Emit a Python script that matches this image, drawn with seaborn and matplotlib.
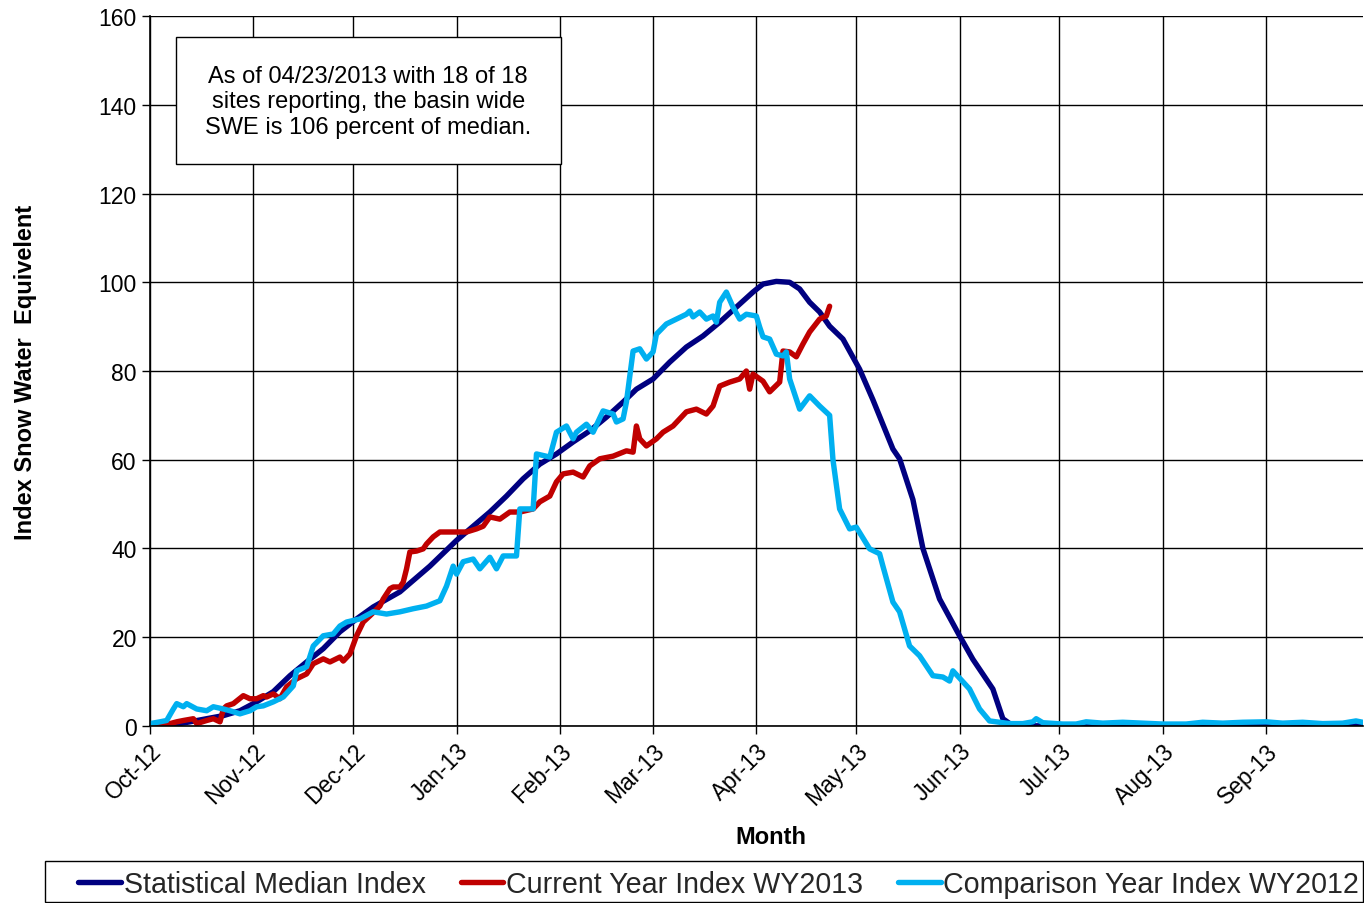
import pandas as pd
import numpy as np
import matplotlib.pyplot as plt
import matplotlib.dates as mdates
from matplotlib.patches import Rectangle
import seaborn as sns

# Ano hidrológico: dias contados a partir de 01/10/2012
inicio = pd.Timestamp("2012-10-01")

mediana_dias = [0, 5, 12, 17, 22, 27, 32, 37, 42, 47, 52, 57, 62, 67, 75, 84, 92, 97, 102,
                107, 112, 117, 122, 127, 132, 137, 142, 146, 151, 156, 161, 166, 171, 176,
                181, 184, 188, 192, 195, 198, 201, 204, 208, 213, 217, 223, 225, 229, 232,
                237, 243, 247, 253, 256, 259, 364]
mediana_vals = [0, 0, 0.9, 1.6, 2.3, 3.4, 5.4, 7.7, 11.3, 14.4, 17.4, 21.2, 24.1, 26.8, 30.2,
                36, 41.8, 45, 48.2, 51.8, 55.7, 59, 61.3, 64, 66.5, 69.6, 73, 75.9, 78.2, 82,
                85.4, 87.9, 91, 94.4, 97.8, 99.6, 100.2, 100, 98.5, 95.5, 93.3, 90.1, 87.2,
                80.4, 73.5, 62.4, 60.2, 51, 40, 28.6, 20.3, 15, 8.3, 1.6, 0, 0]

atual_dias = [0, 6, 8, 10, 13, 14, 17, 19, 21, 22, 23, 25, 28, 30, 32, 34, 35, 37, 39, 41, 44,
              47, 49, 52, 54, 57, 58, 60, 62, 64, 66, 69, 70, 72, 73, 75, 76, 77, 78, 80, 82,
              83, 85, 87, 90, 93, 95, 98, 100, 102, 105, 108, 111, 115, 117, 120, 122, 124,
              127, 130, 132, 135, 139, 143, 145, 146, 147, 149, 152, 154, 157, 161, 164, 167,
              169, 171, 174, 177, 179, 180, 181, 184, 186, 189, 190, 192, 194, 196, 198, 201,
              203, 204]
atual_vals = [0, 0.5, 0.9, 1.2, 1.6, 0.5, 1.2, 1.6, 0.9, 3.8, 4.5, 5, 6.8, 6.1, 6.1, 6.8, 6.5,
              7.2, 6.1, 8.8, 10.6, 11.7, 14, 15.1, 14.4, 15.5, 14.6, 16.2, 20.3, 23.4, 24.8,
              27, 28.6, 30.9, 31.3, 31.3, 32.4, 35.4, 39.2, 39.4, 39.9, 41, 42.6, 43.7, 43.7,
              43.7, 43.7, 44.4, 45, 47.1, 46.6, 48.2, 48.2, 48.9, 50.5, 51.8, 55, 56.8, 57.2,
              56.1, 58.6, 60.2, 60.8, 62, 61.7, 67.6, 64.7, 63.1, 64.7, 66.2, 67.6, 70.8, 71.4,
              70.3, 72.1, 76.6, 77.5, 78.2, 80, 75.9, 79.3, 77.7, 75.3, 77.5, 84.5, 84.3, 83.2,
              86.1, 88.8, 91.7, 92.4, 94.6]

comp_dias = [0, 3, 5, 7, 8, 10, 11, 14, 17, 19, 22, 24, 27, 30, 32, 34, 37, 40, 43, 44, 47,
             49, 52, 55, 57, 59, 63, 67, 71, 75, 79, 83, 87, 89, 91, 92, 94, 97, 99, 102, 104,
             106, 110, 111, 115, 116, 120, 122, 125, 127, 128, 131, 133, 136, 139, 140, 142,
             143, 145, 147, 149, 151, 152, 155, 158, 161, 162, 163, 165, 167, 169, 170, 171,
             173, 175, 177, 179, 182, 183, 184, 186, 188, 190, 191, 192, 195, 198, 201, 204,
             205, 207, 210, 212, 216, 219, 220, 223, 225, 228, 231, 235, 238, 240, 241, 246,
             249, 252, 258, 262, 265, 266, 268, 274, 278, 281, 286, 292, 298, 304, 311, 316,
             322, 328, 335, 340, 346, 352, 358, 362, 364]
comp_vals = [0.5, 0.9, 1.2, 3.8, 5, 4.3, 5, 3.8, 3.4, 4.3, 3.8, 3.4, 2.7, 3.4, 4.3, 4.5, 5.4,
             6.5, 9, 12.4, 13.3, 18, 20.3, 20.7, 22.5, 23.4, 24.1, 25.7, 25.2, 25.7, 26.4, 27,
             28.2, 31.5, 36, 34.2, 37, 37.6, 35.4, 38, 35.4, 38.3, 38.3, 48.9, 48.9, 61.3,
             60.6, 66.2, 67.6, 64.7, 66.2, 68, 66.2, 71, 70.3, 68.5, 69.2, 73, 84.5, 85, 82.7,
             84.3, 88.3, 90.6, 91.7, 92.8, 93.5, 92.2, 93.3, 91.7, 92.4, 91, 95.5, 97.8, 94.4,
             91.7, 92.8, 92.4, 89.9, 87.7, 87.2, 83.8, 83.4, 84.3, 78.2, 71.4, 74.4, 72.1, 70,
             60, 48.9, 44.4, 44.8, 39.9, 38.8, 36, 27.9, 25.7, 18, 15.8, 11.3, 11, 10.1, 12.4,
             8.3, 3.8, 1.1, 0.5, 0.5, 0.9, 1.6, 0.7, 0.4, 0.4, 0.9, 0.6, 0.8, 0.6, 0.4, 0.4,
             0.8, 0.6, 0.8, 0.9, 0.6, 0.8, 0.5, 0.6, 1.1, 0.8]

nomes = ["Statistical Median Index", "Current Year Index WY2013", "Comparison Year Index WY2012"]
cores = ["#000080", "#C00000", "#00B0F0"]
texto_caixa = "As of 04/23/2013 with 18 of 18\nsites reporting, the basin wide\nSWE is 106 percent of median."


def montar_df(dias, valores, nome):
    return pd.DataFrame({"Data": inicio + pd.to_timedelta(dias, unit="D"),
                         "SWE": valores, "Serie": nome})


df = pd.concat([montar_df(mediana_dias, mediana_vals, nomes[0]),
                montar_df(atual_dias, atual_vals, nomes[1]),
                montar_df(comp_dias, comp_vals, nomes[2])], ignore_index=True)

sns.set_theme(style="white")
plt.rcParams['font.family'] = ['Liberation Sans', 'DejaVu Sans']

fig = plt.figure(figsize=(13.64, 9.04), dpi=100)
ax = fig.add_axes([0.110, 0.196, 0.889, 0.785])

sns.lineplot(data=df, x="Data", y="SWE", hue="Serie", hue_order=nomes,
             palette=dict(zip(nomes, cores)), linewidth=3.9, estimator=None,
             sort=False, legend=False, ax=ax)
for linha in ax.get_lines():
    linha.set_solid_capstyle("round")
    linha.set_solid_joinstyle("round")

ax.set_xlim(pd.Timestamp("2012-10-01"), pd.Timestamp("2013-09-30"))
ax.set_ylim(0, 160)
ax.set_yticks(np.arange(0, 161, 20))
ax.xaxis.set_major_locator(mdates.MonthLocator())
ax.xaxis.set_major_formatter(mdates.DateFormatter("%b-%y"))
ax.grid(True, color="black", linewidth=1)
ax.set_axisbelow(True)

for lado in ["top", "right"]:
    ax.spines[lado].set_visible(False)
for lado in ["left", "bottom"]:
    ax.spines[lado].set_color("black")
    ax.spines[lado].set_linewidth(1.2)

ax.tick_params(axis="both", bottom=True, left=True, direction="out", length=6,
               width=1, color="black", labelsize=16.5, labelcolor="black")
plt.setp(ax.get_xticklabels(), rotation=45, ha="right", rotation_mode="anchor")

ax.set_xlabel("Month", fontsize=17, fontweight="bold", color="black")
ax.set_ylabel("Index Snow Water  Equivelent", fontsize=17, fontweight="bold", color="black")
ax.xaxis.set_label_coords(0.512, -0.156)
ax.xaxis.label.set_va("center")
ax.yaxis.set_label_coords(-0.103, 0.5)
ax.yaxis.label.set_va("center")

# Caixa de texto com o resumo
ax.add_patch(Rectangle((0.0214, 0.7915), 0.3176, 0.1785, transform=ax.transAxes,
                       facecolor="white", edgecolor="black", linewidth=1, zorder=5))
ax.text(0.180, 0.880, texto_caixa, transform=ax.transAxes, ha="center", va="center",
        fontsize=17, linespacing=1.22, color="black", zorder=6)

# Legenda na parte inferior, com moldura própria
fig.add_artist(Rectangle((45 / 1364, 1 / 904), 1318 / 1364, 41 / 904,
                         transform=fig.transFigure, facecolor="white",
                         edgecolor="black", linewidth=1))
leg = fig.legend(ax.get_lines(), nomes, loc="center", bbox_to_anchor=(0.527, 0.0205),
                 ncol=3, frameon=False, fontsize=20.6, handlelength=1.5,
                 handletextpad=0.1, columnspacing=1.2, borderpad=0.3)

fig.savefig("out.png", dpi=100)
